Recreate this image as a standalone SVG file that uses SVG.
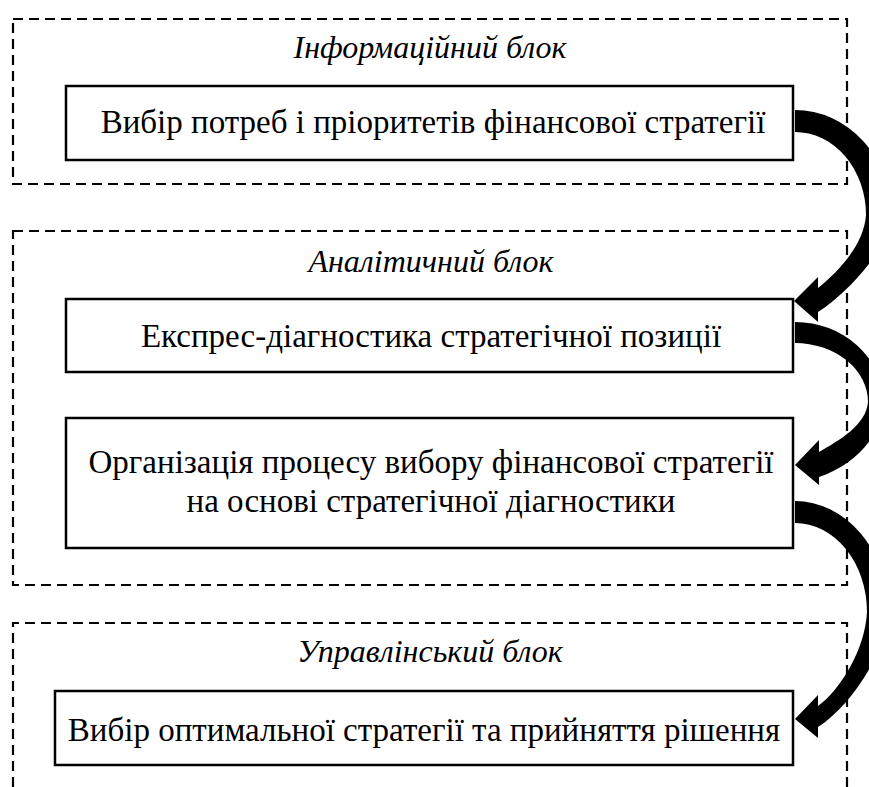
<svg xmlns="http://www.w3.org/2000/svg" width="869" height="787" viewBox="0 0 869 787">
  <style>
    .zone { fill: none; stroke: #000; stroke-width: 2.2; stroke-dasharray: 10 6; }
    .box { fill: #fff; stroke: #000; stroke-width: 2.5; }
    .title { font-family: "Liberation Serif", "Times New Roman", serif; font-style: italic; font-size: 32px; text-anchor: middle; fill: #000; }
    .label { font-family: "Liberation Serif", "Times New Roman", serif; font-size: 33px; text-anchor: middle; fill: #000; }
    .arrow { fill: #000; stroke: none; }
  </style>

  <!-- Information block -->
  <g id="info-block">
    <rect class="zone" x="13" y="19" width="834" height="165"/>
    <text class="title" x="430" y="58">Інформаційний блок</text>
  </g>
  <g id="node-needs">
    <rect class="box" x="66" y="86" width="727" height="74"/>
    <text class="label" x="433" y="133">Вибір потреб і пріоритетів фінансової стратегії</text>
  </g>

  <!-- Analytical block -->
  <g id="analytic-block">
    <rect class="zone" x="13" y="231" width="834" height="354"/>
    <text class="title" x="431" y="272">Аналітичний блок</text>
  </g>
  <g id="node-diagnostics">
    <rect class="box" x="66" y="299" width="727" height="73"/>
    <text class="label" x="431" y="347">Експрес-діагностика стратегічної позиції</text>
  </g>
  <g id="node-selection">
    <rect class="box" x="66" y="418" width="727" height="130"/>
    <text class="label" x="431" y="473">Організація процесу вибору фінансової стратегії</text>
    <text class="label" x="431" y="512">на основі стратегічної діагностики</text>
  </g>

  <!-- Management block (open at the bottom) -->
  <g id="manage-block">
    <path class="zone" d="M13,787 V623 H847 V787"/>
    <text class="title" x="430" y="662">Управлінський блок</text>
  </g>
  <g id="node-decision">
    <rect class="box" x="55" y="691" width="738" height="74"/>
    <text class="label" x="424" y="741">Вибір оптимальної стратегії та прийняття рішення</text>
  </g>

  <!-- Curved block arrows -->
  <g id="connectors">
    <path class="arrow" d="M795,110 A96,105 0 0 1 891,215 C890,245 852,290 818,312 L818,322 L794,301 L818,277 L818,288 C838,272 864,245 866,215 A71,83 0 0 0 795,132 Z"/>
    <path class="arrow" d="M795,322 A88,80 0 0 1 883,402 C883,435 855,465 819,477 L819,485 L795,465 L819,440 L819,452 C840,440 866,425 868,402 A73,59 0 0 0 795,343 Z"/>
    <path class="arrow" d="M795,501 A93,111 0 0 1 888,612 C887,650 852,705 818,727 L818,738 L795,719 L818,695 L818,706 C840,690 865,650 867,612 A72,89 0 0 0 795,523 Z"/>
  </g>
</svg>
